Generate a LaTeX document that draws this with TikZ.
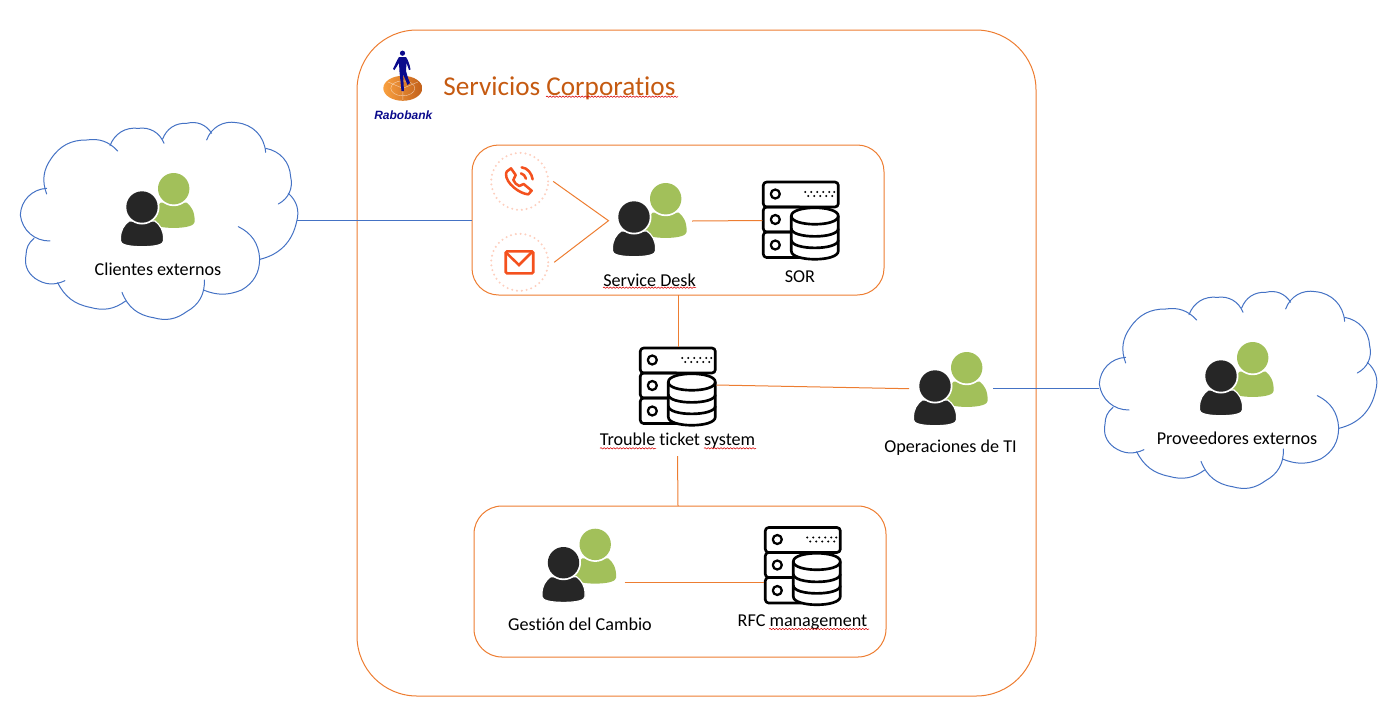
\documentclass[tikz,border=0pt]{standalone}
\usepackage{fontspec}
\setmainfont{Carlito}[RawFeature={-liga}]
\newfontfamily\logofont{Liberation Sans}
\usetikzlibrary{decorations.pathmorphing,calc}
\definecolor{frameor}{HTML}{ED7D31}
\definecolor{linkblue}{HTML}{4472C4}
\definecolor{duogreen}{HTML}{A2C05A}
\definecolor{duoblack}{HTML}{262626}
\definecolor{titleor}{HTML}{C55A11}
\definecolor{iconred}{HTML}{F4511E}
\definecolor{ringpink}{HTML}{FDCFBF}
\definecolor{logoblue}{HTML}{0A0A8C}
\definecolor{logolight}{HTML}{F9A040}
\definecolor{logodark}{HTML}{C2601A}
\tikzset{
  frame/.style={draw=frameor,line width=0.75pt,rectangle,anchor=north west,outer sep=0pt,inner sep=0pt},
  orline/.style={draw=frameor,line width=0.75pt},
  blline/.style={draw=linkblue,line width=0.75pt},
  label/.style={font=\fontsize{13.6}{15}\selectfont,text=black,inner sep=0pt},
  wavy/.style={draw=red!85!black,line width=0.4pt,decorate,decoration={snake,amplitude=0.5pt,segment length=2.4pt}},
  hitbox/.style={rectangle,inner sep=0pt,outer sep=0pt},
  ring/.style={circle,draw=ringpink,line width=1.7pt,dash pattern=on 0pt off 3.65pt,line cap=round,minimum size=57*0.75pt,inner sep=0pt,outer sep=0pt},
  cloudline/.style={draw=linkblue,line width=0.75pt,line cap=round},
  lobe/.style={bend left=#1,looseness=1},
  pics/cloudshape/.style={code={
    \begin{scope}[scale=0.3333]
      \draw[cloudline] (110,237) to[lobe=28] (124,130) to[lobe=28] (230,75) to[lobe=28] (323,108);
      \draw[cloudline] (300,92) to[lobe=38] (385,40) to[lobe=38] (462,85);
      \draw[cloudline] (458,72) to[lobe=36] (530,25) to[lobe=36] (605,55);
      \draw[cloudline] (590,75) to[lobe=40] (680,23) to[lobe=40] (767,112);
      \draw[cloudline] (767,100) to[lobe=38] (842,185) to[lobe=38] (805,267);
      \draw[cloudline] (835,235) to[lobe=32] (860,320) to[lobe=32] (750,433);
      \draw[cloudline] (685,335) to[lobe=30] (749,430) to[lobe=30] (695,525) to[lobe=22] (580,525);
      \draw[cloudline] (583,495) to[lobe=32] (530,590) to[lobe=26] (430,608) to[lobe=30] (336,532);
      \draw[cloudline] (347,558) to[lobe=26] (240,577) to[lobe=26] (143,503);
      \draw[cloudline] (165,497) to[lobe=30] (75,490) to[lobe=32] (48,420) to[lobe=24] (72,370);
      \draw[cloudline] (120,378) to[lobe=42] (31,300) to[lobe=42] (110,220);
    \end{scope}
  }},
  pics/duo/.style={code={
    \fill[duogreen] (10.7,12.7) .. controls (10.7,4.7) and (13.7,-0.3) .. (18.7,-4.3) -- (44.7,-4.3) .. controls (49.7,-0.3) and (52.7,4.7) .. (52.7,14.7) .. controls (52.7,18.2) and (45.7,20.9) .. (31.7,20.9) .. controls (17.7,20.9) and (10.7,18.2) .. (10.7,14.7) -- cycle;
    \fill[white] (31.7,-18.3) circle[radius=17.5];
    \fill[duogreen] (31.7,-18.3) circle[radius=15.7];
    \fill[duoblack,draw=white,line width=0.9pt] (-21.5,31) .. controls (-21.5,23) and (-18,18) .. (-13,14) -- (13,14) .. controls (18,18) and (21.5,23) .. (21.5,31) -- (21.5,34) .. controls (21.5,37.5) and (14,39.7) .. (0,39.7) .. controls (-14,39.7) and (-21.5,37.5) .. (-21.5,34) -- cycle;
    \fill[white] (0,0) circle[radius=17.5];
    \fill[duoblack] (0,0) circle[radius=15.7];
  }},
  pics/serverstack/.style={code={
    \begin{scope}[line width=2pt,draw=black,fill=white,line join=round]
      \draw[rounded corners=2.5pt] (1,1) rectangle (76,26);
      \draw[rounded corners=2.5pt] (1,26) -- (1,51) -- (40,51) -- (40,26) -- cycle;
      \draw[rounded corners=2.5pt] (1,51) -- (1,76.5) -- (40,76.5) -- (40,51) -- cycle;
      \draw[line width=1.7pt] (13,13) circle[radius=4.5];
      \draw[line width=1.7pt] (13,38.5) circle[radius=4.5];
      \draw[line width=1.7pt] (13,64) circle[radius=4.5];
      \filldraw (29,35) .. controls (29,24) and (76,24) .. (76,35) -- (76,70) .. controls (76,81) and (29,81) .. (29,70) -- cycle;
      \draw (29,35) .. controls (29,46) and (76,46) .. (76,35);
      \draw (29,47.5) .. controls (29,58) and (76,58) .. (76,47.5);
      \draw (29,59) .. controls (29,69.5) and (76,69.5) .. (76,59);
    \end{scope}
    \foreach \dx in {43,49,55,61,67,72}{\fill (\dx,11) circle[radius=1.1];}
    \foreach \dx in {46,52,58,64,70}{\fill (\dx,15) circle[radius=1.1];}
  }}
}
\begin{document}
\begin{tikzpicture}[x=0.75pt,y=-0.75pt]
\useasboundingbox (0,0) rectangle (1399,722);
% frames
\node[frame,rounded corners=45pt,minimum width=679*0.75pt,minimum height=666*0.75pt] (corp) at (357,30) {};
\node[frame,rounded corners=20pt,minimum width=412*0.75pt,minimum height=150*0.75pt] (deskbox) at (472,145) {};
\node[frame,rounded corners=21pt,minimum width=412*0.75pt,minimum height=151*0.75pt] (changebox) at (474,506) {};
% clouds
\pic at (10,115) {cloudshape};
\pic at (1089,284) {cloudshape};
\node[hitbox,minimum width=277*0.75pt,minimum height=197*0.75pt] (clientcloud) at (158.5,220.5) {};
\node[hitbox,minimum width=277*0.75pt,minimum height=197*0.75pt] (vendorcloud) at (1237.5,388.5) {};
% logo
\shade[left color=logolight,right color=logodark] (402.8,88.3) ellipse[x radius=19.5,y radius=12.5];
\draw[white,line width=0.3pt,opacity=.6] (402.8,88.3) ellipse[x radius=12,y radius=7.5] (402.8,88.3) -- (388,82) (402.8,88.3) -- (418,82) (402.8,88.3) -- (402.8,100);
\fill[logoblue] (402.5,53.2) circle[radius=2.6];
\fill[logoblue] (399,57) -- (406,57) .. controls (408,60) and (410,65) .. (410.5,69.5) -- (409,70) -- (406.5,63) -- (406,71) -- (408,78) -- (410,83) -- (407.5,85) -- (403,74) -- (404,91) -- (401.5,91) -- (399.5,72) -- (399,63) -- (394.5,70) -- (393,69) .. controls (395,65) and (397,60) .. (399,57) -- cycle;
\node[inner sep=0pt,font=\logofont\bfseries\itshape\fontsize{9}{11}\selectfont,text=logoblue] (logotext) at (403.3,115.5) {Rabobank};
\node[inner sep=0pt,anchor=west,font=\fontsize{20.4}{24}\selectfont,text=titleor] (title) at (443,88) {Servicios Corporatios};
\draw[wavy] (546,96.7) -- (678,96.7);
% service desk row
\node[ring] (phonering) at (519.7,181.4) {};
\node[ring] (mailring) at (519.7,262.3) {};
\begin{scope}[shift={(485,150)},scale=0.3333,line width=1.9pt,line join=round,line cap=round]
  \draw[iconred] (65,65) -- (78,55) -- (92,75) -- (85,90) .. controls (88,98) and (95,105) .. (103,108) -- (116,102) -- (140,122) -- (130,133) .. controls (105,132) and (62,100) .. (63,72) -- cycle;
  \draw[iconred] (110,52) .. controls (128,54) and (140,70) .. (143,88);
  \draw[iconred] (108,70) .. controls (115,72) and (121,78) .. (123,86);
\end{scope}
\node[draw=iconred,line width=1.9pt,rounded corners=1pt,rectangle,minimum width=27.5*0.75pt,minimum height=22*0.75pt,inner sep=0pt] (mailicon) at (519.5,262.3) {};
\draw[iconred,line width=1.9pt] (mailicon.north west) ++(1,2) -- ++(13.5,13) -- ++(13,-13);
\coordinate (join) at (608.5,220.7);
\draw[orline] ($(phonering.east)+(5,0)$) -- (join) -- ($(mailring.east)+(6,0)$);
\pic at (634,217) {duo};
\node[hitbox,minimum width=84*0.75pt,minimum height=8*0.75pt] (deskduo) at (650,221) {};
\node[label] (desktext) at (649.5,280) {Service Desk};
\draw[wavy] (603,287.7) -- (696,287.7);
\pic at (762.3,181) {serverstack};
\node[hitbox,minimum width=77*0.75pt,minimum height=78*0.75pt] (sor) at (800.8,220.5) {};
\node[label] (sortext) at (800,277) {SOR};
% ticket row
\pic at (639.3,347) {serverstack};
\node[hitbox,minimum width=77*0.75pt,minimum height=78*0.75pt] (ticket) at (678,386) {};
\node[label] (tickettext) at (677.5,441) {Trouble ticket system};
\draw[wavy] (600,448.3) -- (656,448.3);
\draw[wavy] (704,448.3) -- (756,448.3);
\pic at (935,386) {duo};
\node[hitbox,minimum width=84*0.75pt,minimum height=6*0.75pt] (opsduo) at (951,388.7) {};
\node[label] (opstext) at (950.5,448) {Operaciones de TI};
% change row
\pic at (563.5,562.7) {duo};
\coordinate (changey) at (0,582);
\node[hitbox,minimum width=61*0.75pt,minimum height=40*0.75pt,anchor=north west] (changeduo) at (563.5,562) {};
\node[label] (changetext) at (580,624) {Gestión del Cambio};
\pic at (764.3,526.5) {serverstack};
\node[hitbox,minimum width=77*0.75pt,minimum height=78*0.75pt] (rfc) at (802.8,565.5) {};
\node[label] (rfctext) at (802.5,622.5) {RFC management};
\draw[wavy] (769,629) -- (869,629);
% cloud contents
\pic at (142,207) {duo};
\node[label] (clienttext) at (158,269) {Clientes externos};
\pic at (1221,376) {duo};
\node[label] (vendortext) at (1237,438) {Proveedores externos};
% connectors
\draw[blline] (clientcloud.east) -- (deskbox.west |- clientcloud.east);
\draw[orline] (deskduo.east) -- (sor.west);
\draw[orline] (deskbox.south -| ticket.north) -- (ticket.north);
\draw[orline] (ticket.east) ++(0,-1) -- (opsduo.west);
\draw[orline] ($(tickettext.south)+(0,7)$) -- (changebox.north -| ticket.north);
\draw[blline] (opsduo.east) -- (vendorcloud.west |- opsduo.east);
\draw[orline] (changeduo.east |- changey) -- (rfc.west |- changey);
\end{tikzpicture}
\end{document}
